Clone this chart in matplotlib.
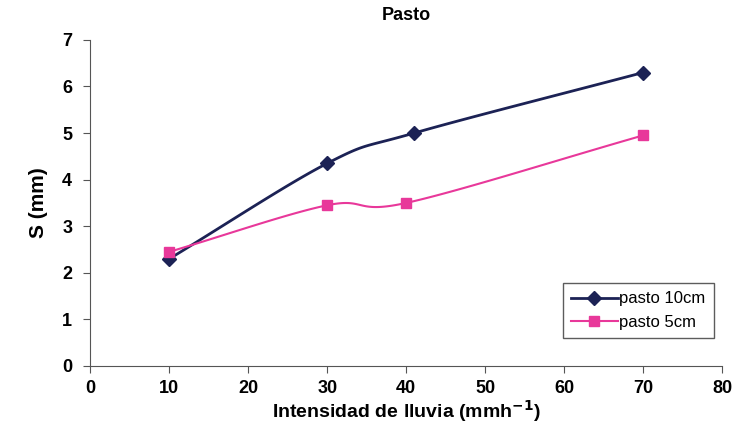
import matplotlib
matplotlib.use("Agg")
import matplotlib.pyplot as plt
import numpy as np

plt.rcParams['font.family'] = ['Liberation Sans Narrow', 'Liberation Sans', 'DejaVu Sans']

# datos
x_10 = [10, 30, 41, 70]
s_10 = [2.3, 4.35, 5.0, 6.3]
x_5 = [10, 30, 40, 70]
s_5 = [2.45, 3.45, 3.5, 4.95]
series = ['pasto 10cm', 'pasto 5cm']


def suave(x, y, n=40):
    # curva tipo Catmull-Rom (como el suavizado de Excel)
    x = np.asarray(x, float)
    y = np.asarray(y, float)
    px = np.concatenate([[2 * x[0] - x[1]], x, [2 * x[-1] - x[-2]]])
    py = np.concatenate([[2 * y[0] - y[1]], y, [2 * y[-1] - y[-2]]])
    xs, ys = [], []
    t = np.linspace(0, 1, n)
    for i in range(1, len(px) - 2):
        p0, p1, p2, p3 = [np.array([px[j], py[j]]) for j in range(i - 1, i + 3)]
        c1 = p1 + (p2 - p0) / 6
        c2 = p2 - (p3 - p1) / 6
        b = ((1 - t) ** 3)[:, None] * p1 + (3 * (1 - t) ** 2 * t)[:, None] * c1 \
            + (3 * (1 - t) * t ** 2)[:, None] * c2 + (t ** 3)[:, None] * p2
        xs.extend(b[:, 0])
        ys.extend(b[:, 1])
    return xs, ys


fig = plt.figure(figsize=(7.4, 4.29), dpi=100)
ax = fig.add_axes([0.122, 0.147, 0.854, 0.76])

azul = '#1c2255'
rosa = '#e8389a'

cx, cy = suave(x_10, s_10)
ax.plot(cx, cy, color=azul, lw=2)
ax.plot(x_10, s_10, ls='none', marker='D', ms=7, color=azul)
ax.plot([], [], color=azul, lw=2, marker='D', ms=7, label=series[0])

cx, cy = suave(x_5, s_5)
ax.plot(cx, cy, color=rosa, lw=1.5)
ax.plot(x_5, s_5, ls='none', marker='s', ms=7, color=rosa)
ax.plot([], [], color=rosa, lw=1.5, marker='s', ms=7, label=series[1])

ax.set_xlim(0, 80)
ax.set_ylim(0, 7)
ax.set_xticks(range(0, 81, 10))
ax.set_yticks(range(0, 8))
for s in ['top', 'right']:
    ax.spines[s].set_visible(False)
for s in ['left', 'bottom']:
    ax.spines[s].set_color('#555555')
ax.tick_params(direction='out', length=5, color='#555555', labelsize=13)
ax.tick_params(axis='x', pad=5)
ax.tick_params(axis='y', pad=8)
for lab in ax.get_xticklabels() + ax.get_yticklabels():
    lab.set_fontweight('bold')

ax.set_title('Pasto', fontsize=13, fontweight='bold', pad=14)
ax.set_ylabel('S (mm)', fontsize=15, fontweight='bold', labelpad=10)
ax.set_xlabel('Intensidad de lluvia (mmh$^{\\mathbf{-1}}$)', fontsize=14, fontweight='bold', labelpad=1)

leg = ax.legend(loc='lower right', bbox_to_anchor=(1.0, 0.06), fontsize=12, frameon=True,
                fancybox=False, edgecolor='#333333', handlelength=2.8, borderpad=0.5,
                handletextpad=0.1)
leg.get_frame().set_linewidth(1)

fig.savefig('out.png', dpi=100)
